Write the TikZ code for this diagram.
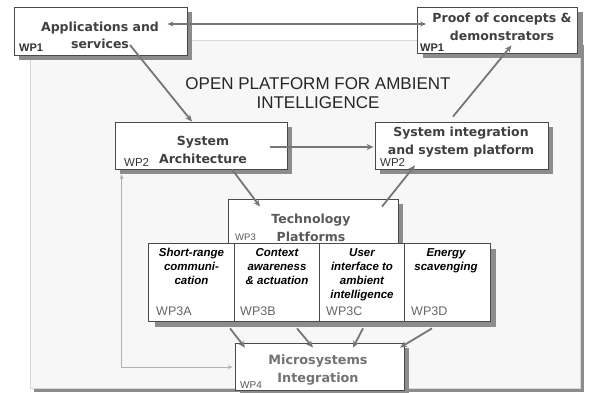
\documentclass[tikz,border=0pt]{standalone}
\usepackage{fontspec}
\setmainfont{DejaVu Sans}
\newfontfamily\arialf{Liberation Sans}
\usetikzlibrary{calc,arrows.meta,shadows}
\definecolor{shadowgray}{HTML}{8C8C8C}
\definecolor{panelfill}{HTML}{F7F7F7}
\definecolor{panelline}{HTML}{D8D8D8}
\definecolor{boxline}{HTML}{4A4A4A}
\definecolor{arrowgray}{HTML}{767676}
\definecolor{thinline}{HTML}{B0B0B0}
\begin{document}
\begin{tikzpicture}[x=1pt,y=-1pt,
  box/.style={draw=boxline, line width=0.8pt, fill=white, inner sep=0pt,
    drop shadow={shadow xshift=5pt, shadow yshift=-5pt, fill=shadowgray, opacity=1}},
  subbox/.style={draw=boxline, line width=0.7pt, fill=white, inner sep=0pt,
    minimum width=85.5pt, minimum height=78pt,
    drop shadow={shadow xshift=6pt, shadow yshift=-6pt, fill=shadowgray, opacity=1}},
  boxtext/.style={inner sep=0pt, align=center, font=\bfseries\fontsize{12.5}{17.5}\selectfont},
  subtext/.style={inner sep=0pt, align=center, anchor=north, text=black,
    font=\arialf\bfseries\itshape\fontsize{11.5}{14}\selectfont},
  wplabel/.style={inner sep=0pt, anchor=base west, font=\arialf\fontsize{11.5}{13}\selectfont},
  flow/.style={draw=arrowgray, line width=1.8pt, -{Stealth[length=7pt,width=6pt]}},
  both/.style={draw=arrowgray, line width=1.6pt, {Stealth[length=6pt,width=5pt]}-{Stealth[length=6pt,width=5pt]}},
  feedback/.style={draw=thinline, line width=0.8pt, {Stealth[length=5pt,width=4pt]}-{Stealth[length=5pt,width=4pt]}}
]
\useasboundingbox (0,0) rectangle (589,392);
% background panel
\fill[shadowgray] (34,45) rectangle (584,392);
\filldraw[fill=panelfill, draw=panelline, line width=0.6pt] (30,40) rectangle (580,388);

% title
\node[inner sep=0pt, align=center, text=black!85, font=\arialf\fontsize{17}{19}\selectfont] (title) at (318,93.5) {OPEN PLATFORM FOR AMBIENT\\INTELLIGENCE};

% WP1 boxes
\node[box, minimum width=173pt, minimum height=48pt] (app) at (100.5,31) {};
\node[boxtext, text=black!75] (apptxt) at (100,35.5) {Applications and\\services};
\node[wplabel, text=black!80, font=\arialf\bfseries\fontsize{11}{13}\selectfont] (wpa) at (19,51.5) {WP1};

\node[box, minimum width=160pt, minimum height=46pt] (proof) at (497.5,30) {};
\node[boxtext, text=black!75] (prooftxt) at (502,27) {Proof of concepts \&\\demonstrators};
\node[wplabel, text=black!80, font=\arialf\bfseries\fontsize{11}{13}\selectfont] (wpb) at (420,51.5) {WP1};

% WP2 boxes
\node[box, minimum width=172pt, minimum height=47pt] (sysarch) at (201,145.5) {};
\node[boxtext, text=black!75] (sysarchtxt) at (203,150) {System\\Architecture};
\node[wplabel, text=black!80] (wpc) at (124,166.5) {WP2};

\node[box, minimum width=173pt, minimum height=47pt] (sysint) at (461.5,145.5) {};
\node[boxtext, text=black!75] (sysinttxt) at (461,142) {System integration\\and system platform};
\node[wplabel, text=black!80] (wpd) at (380,166.5) {WP2};

% WP3 technology platforms
\node[box, minimum width=170pt, minimum height=44pt] (tech) at (313,221) {};
\node[boxtext, text=black!65] (techtxt) at (311,228) {Technology\\Platforms};
\node[wplabel, text=black!65, font=\arialf\fontsize{9.5}{11}\selectfont] (wpe) at (235,240.5) {WP3};

% sub boxes
\node[subbox] (suba) at (191.5,282) {};
\node[subbox] (subb) at (277,282) {};
\node[subbox] (subc) at (362,282) {};
\node[subbox, minimum width=86pt] (subd) at (447,282) {};
\node[subtext] (subatxt) at (191.5,248) {Short-range\\communi-\\cation};
\node[subtext] (subbtxt) at (277,248) {Context\\awareness\\\& actuation};
\node[subtext] (subctxt) at (362,248) {User\\interface to\\ambient\\intelligence};
\node[subtext] (subdtxt) at (446,248) {Energy\\scavenging};
\node[wplabel, text=black!60, font=\arialf\fontsize{12.5}{14}\selectfont] (wpf) at (156,315.5) {WP3A};
\node[wplabel, text=black!60, font=\arialf\fontsize{12.5}{14}\selectfont] (wpg) at (240,315.5) {WP3B};
\node[wplabel, text=black!60, font=\arialf\fontsize{12.5}{14}\selectfont] (wph) at (326,315.5) {WP3C};
\node[wplabel, text=black!60, font=\arialf\fontsize{12.5}{14}\selectfont] (wpi) at (411,315.5) {WP3D};

% WP4
\node[box, minimum width=169pt, minimum height=47pt] (micro) at (319.5,366.5) {};
\node[boxtext, text=black!55, font=\bfseries\fontsize{12.8}{17.5}\selectfont] (microtxt) at (318,370) {Microsystems\\Integration};
\node[wplabel, text=black!65, font=\arialf\fontsize{10}{12}\selectfont] (wpj) at (240,388.5) {WP4};

% connectors
\draw[both] ($(app.east)+(-20,-7)$) -- ($(proof.west)+(9,-6)$);
\draw[flow] ($(app.center)+(29.5,14)$) -- ($(sysarch.north)+(-9,0)$);
\draw[flow] ($(sysint.north)+(-8.5,-5)$) -- ($(proof.south)+(14,-8)$);
\draw[flow] ($(sysarch.east)+(-17,1.5)$) -- ($(sysint.west)+(-1,1.5)$);
\draw[flow] ($(sysarch.south)+(31,0)$) -- ($(tech.north)+(-53,8)$);
\draw[flow] ($(tech.north)+(69,8)$) -- ($(sysint.south)+(-46.5,-4)$);
\draw[flow] ($(suba.south)+(38.5,7)$) -- ($(micro.north)+(-74.5,5)$);
\draw[flow] ($(subb.south)+(20,7)$) -- ($(micro.north)+(-6.5,5)$);
\draw[flow] ($(subc.south)+(1,7)$) -- ($(micro.north)+(33.5,5)$);
\draw[flow] ($(subd.south)+(-15,7)$) -- ($(micro.north)+(80.5,5)$);
\draw[feedback] ($(sysarch.south west)+(7,5)$) |- ($(micro.west)+(-2,0.5)$);
\end{tikzpicture}
\end{document}
